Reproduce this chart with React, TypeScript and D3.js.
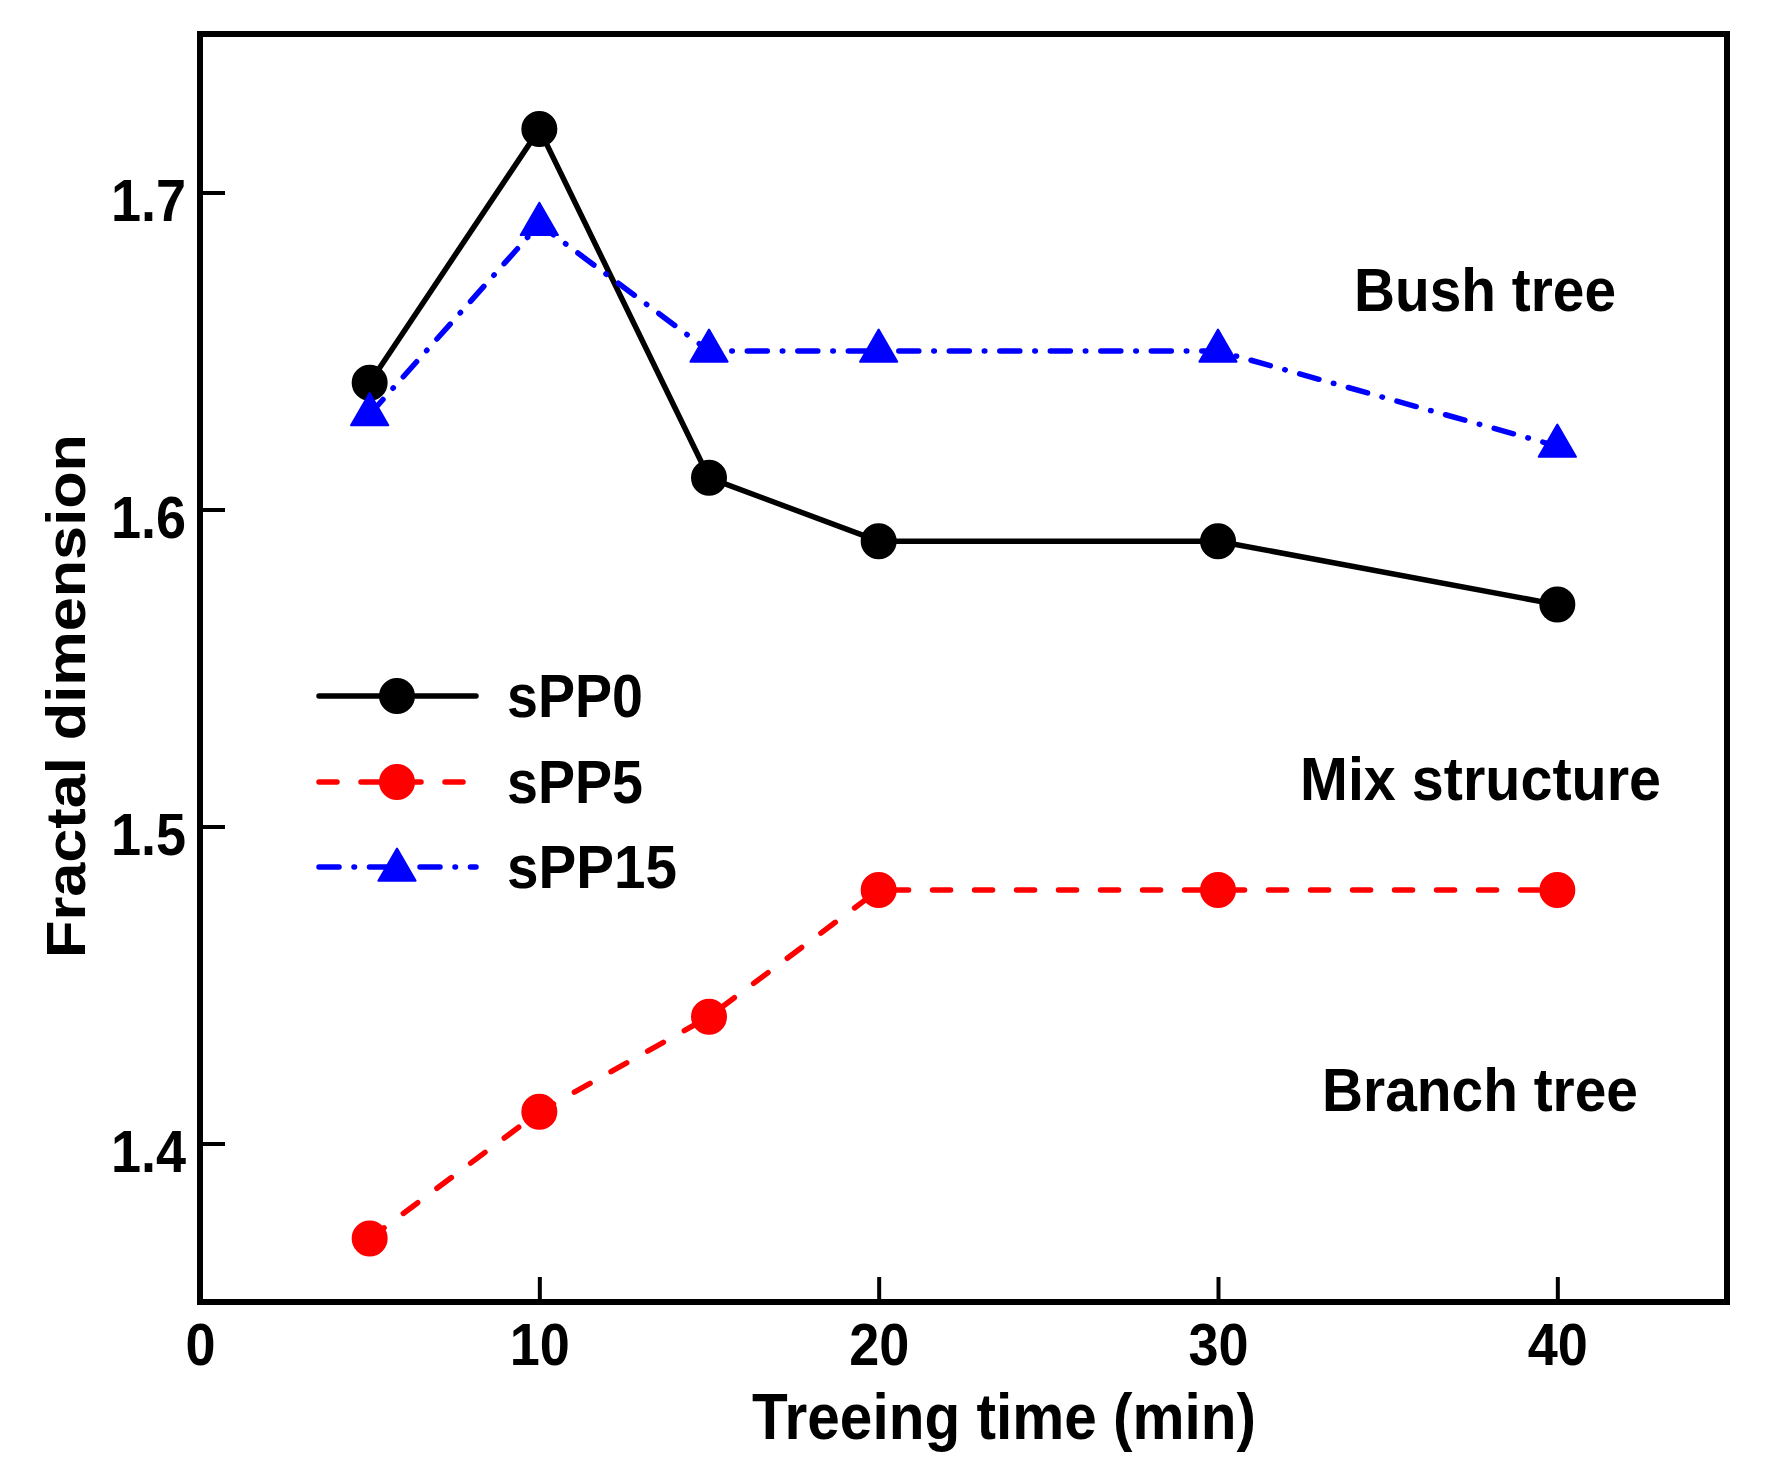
import React, {useEffect, useRef} from "react";
import * as d3 from "d3";

// data
const times = [5, 10, 15, 20, 30, 40];
const sPP0 = [1.64, 1.72, 1.61, 1.59, 1.59, 1.57];
const sPP5 = [1.37, 1.41, 1.44, 1.48, 1.48, 1.48];
const sPP15 = [1.63, 1.69, 1.65, 1.65, 1.65, 1.62];
const seriesNames = ["sPP0", "sPP5", "sPP15"];
const xTicks = [0, 10, 20, 30, 40];
const yTicks = [1.4, 1.5, 1.6, 1.7];

const width = 1790;
const height = 1476;
const plot = {left: 200, right: 1727, top: 34, bottom: 1302};
const FONT = "'Liberation Sans', Arial, Helvetica, sans-serif";

const styles = [
    {color: "#000000", dash: "none"},
    {color: "#ff0000", dash: "18 24"},
    {color: "#0000ff", dash: "20 15 0.5 15"},
];

type Pt = { t: number; v: number };

const App: React.FC = () => {
    const xAxisRef = useRef<SVGGElement | null>(null);
    const yAxisRef = useRef<SVGGElement | null>(null);

    const x = d3.scaleLinear().domain([0, 45]).range([plot.left, plot.right]);
    const y = d3.scaleLinear().domain([1.35, 1.75]).range([plot.bottom, plot.top]);

    const data: Pt[][] = [sPP0, sPP5, sPP15].map(vals => vals.map((v, i) => ({t: times[i], v})));

    const line = d3.line<Pt>().x(d => x(d.t)).y(d => y(d.v));

    const symbolPath = (i: number) =>
        i === 2 ? d3.symbol().type(d3.symbolTriangle).size(600)()! : d3.symbol().type(d3.symbolCircle).size(Math.PI * 17 * 17)()!;

    useEffect(() => {
        // squeeze tick text a bit, the original font is narrower than Arial
        const condense = (sel: d3.Selection<SVGTextElement, unknown, any, any>, k: number) => {
            sel.each(function () {
                const len = this.getComputedTextLength();
                d3.select(this).attr("textLength", len * k).attr("lengthAdjust", "spacingAndGlyphs");
            });
        };

        const gx = d3.select(xAxisRef.current!)
            .attr("transform", `translate(0,${plot.bottom})`)
            .call(d3.axisBottom(x).tickValues(xTicks).tickSizeInner(-25).tickSizeOuter(0).tickPadding(20).tickFormat(d3.format("d")));
        gx.select(".domain").remove();
        gx.attr("font-size", 60).attr("font-family", FONT).attr("font-weight", "bold");
        gx.selectAll("line").attr("stroke", "#000").attr("stroke-width", 4);
        gx.selectAll<SVGTextElement, unknown>("text").attr("fill", "#000");
        condense(gx.selectAll<SVGTextElement, unknown>("text"), 0.9);

        const gy = d3.select(yAxisRef.current!)
            .attr("transform", `translate(${plot.left},0)`)
            .call(d3.axisLeft(y).tickValues(yTicks).tickSizeInner(-25).tickSizeOuter(0).tickPadding(14).tickFormat(d3.format(".1f")));
        gy.select(".domain").remove();
        gy.attr("font-size", 60).attr("font-family", FONT).attr("font-weight", "bold");
        gy.selectAll("line").attr("stroke", "#000").attr("stroke-width", 4);
        gy.selectAll<SVGTextElement, unknown>("text").attr("fill", "#000").attr("dy", "0.46em");
        condense(gy.selectAll<SVGTextElement, unknown>("text"), 0.9);
    }, []);

    const legendX0 = 319, legendX1 = 476, legendMid = 397;
    const legendY = [696, 782, 867];
    const legendText = [{w: 136}, {w: 136}, {w: 170}];

    return (
        <svg width={width} height={height} style={{position: "absolute", left: 0, top: 0, background: "#fff"}}
             fontFamily={FONT} fontWeight="bold">
            <rect x={0} y={0} width={width} height={height} fill="#fff"/>

            {/* series */}
            {data.map((pts, i) => (
                <g key={seriesNames[i]}>
                    <path d={line(pts)!} fill="none" stroke={styles[i].color} strokeWidth={5.5}
                          strokeDasharray={styles[i].dash} strokeLinecap="round" strokeLinejoin="round"/>
                    {pts.map((p, j) => (
                        <path key={j} d={symbolPath(i)} transform={`translate(${x(p.t)},${y(p.v)})`}
                              fill={styles[i].color} stroke={styles[i].color} strokeWidth={2} strokeLinejoin="round"/>
                    ))}
                </g>
            ))}

            {/* frame */}
            <rect x={plot.left} y={plot.top} width={plot.right - plot.left} height={plot.bottom - plot.top}
                  fill="none" stroke="#000" strokeWidth={6}/>
            <g ref={xAxisRef}/>
            <g ref={yAxisRef}/>

            {/* axis titles */}
            <text x={752} y={1439} fontSize={64} textLength={504} lengthAdjust="spacingAndGlyphs">Treeing time (min)</text>
            <text transform="translate(85,696) rotate(-90)" textAnchor="middle" fontSize={56} textLength={524}
                  lengthAdjust="spacingAndGlyphs">Fractal dimension</text>

            {/* region labels */}
            <text x={1354} y={311} fontSize={62} textLength={262} lengthAdjust="spacingAndGlyphs">Bush tree</text>
            <text x={1300} y={800} fontSize={62} textLength={361} lengthAdjust="spacingAndGlyphs">Mix structure</text>
            <text x={1322} y={1111} fontSize={62} textLength={316} lengthAdjust="spacingAndGlyphs">Branch tree</text>

            {/* legend */}
            {seriesNames.map((name, i) => (
                <g key={name}>
                    <line x1={legendX0} x2={legendX1} y1={legendY[i]} y2={legendY[i]} stroke={styles[i].color}
                          strokeWidth={5.5} strokeDasharray={styles[i].dash} strokeLinecap="round"/>
                    <path d={symbolPath(i)} transform={`translate(${legendMid},${legendY[i] + (i === 2 ? 3 : 0)})`}
                          fill={styles[i].color} stroke={styles[i].color} strokeWidth={2} strokeLinejoin="round"/>
                    <text x={507} y={legendY[i] + 21} fontSize={61} textLength={legendText[i].w}
                          lengthAdjust="spacingAndGlyphs">{name}</text>
                </g>
            ))}
        </svg>
    );
};

export default App;
